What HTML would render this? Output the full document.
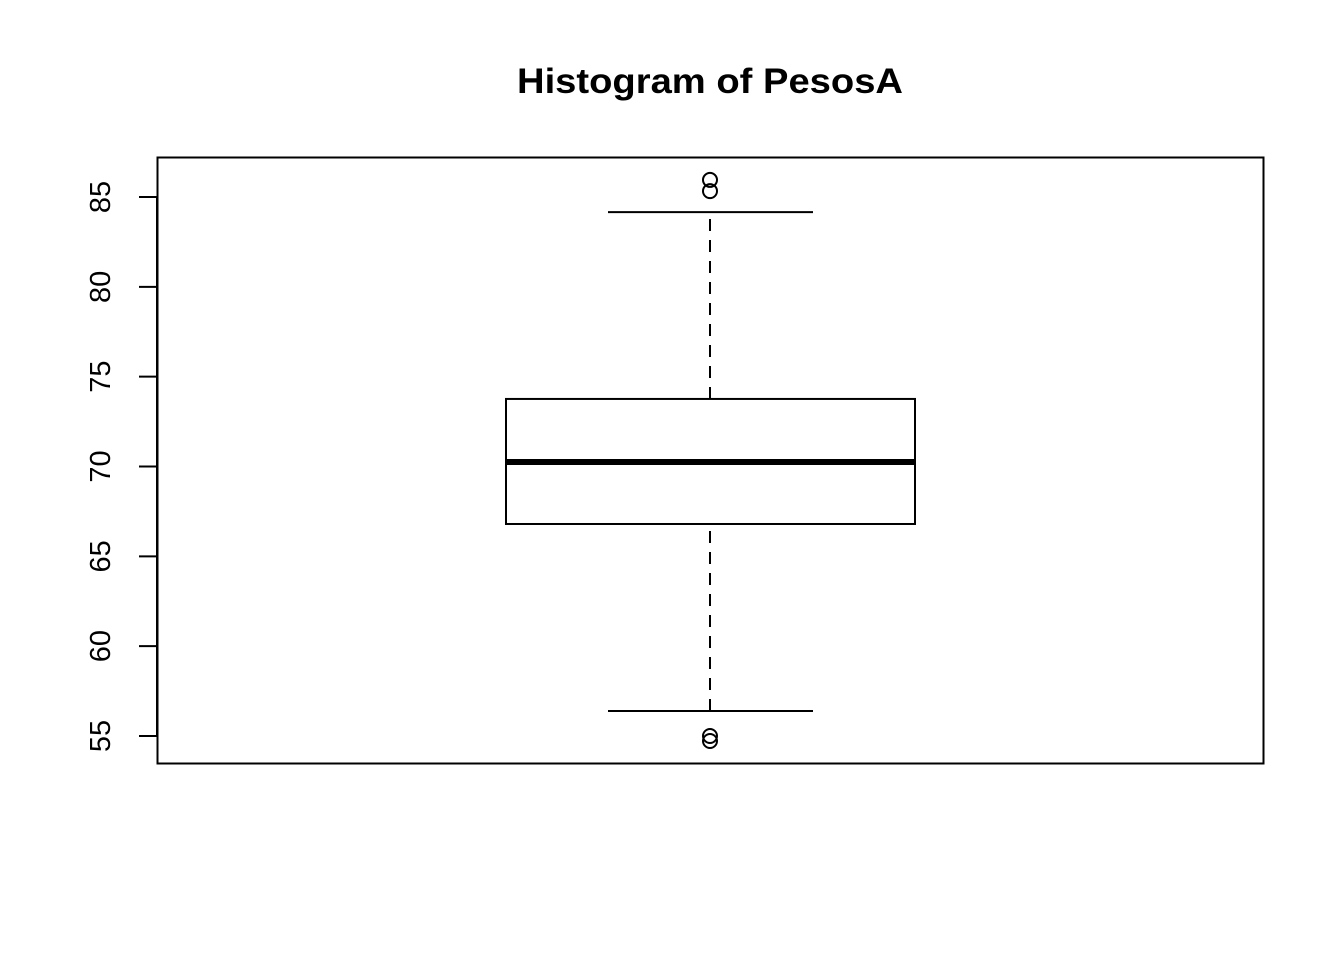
<!DOCTYPE html>
<html><head><meta charset="utf-8"><style>
html,body{margin:0;padding:0;background:#fff;}
svg{display:block;font-family:"Liberation Sans",Arial,sans-serif;}
</style></head><body>
<svg id="chart" width="1344" height="960" viewBox="0 0 1344 960">
<rect width="1344" height="960" fill="#fff"/>
<text x="710" y="93" text-anchor="middle" font-size="35" font-weight="bold" textLength="386" lengthAdjust="spacingAndGlyphs">Histogram of PesosA</text>
<rect x="157.5" y="157.5" width="1106" height="606" fill="none" stroke="#000" stroke-width="2"/>
<g id="yaxis"></g>
<g id="box"></g>
</svg>
<script>
const yTicks=[55,60,65,70,75,80,85];
const stats=[56.39,66.8,70.25,73.76,84.16]; // lower whisker, Q1, median, Q3, upper whisker
const outliers=[85.95,85.33,55.0,54.72];
const NS="http://www.w3.org/2000/svg";
function y(v){return 736-(v-55)*(539/30);}
const cx=710, boxL=506, boxR=915, capL=608, capR=813;
function mk(tag,attrs,parent){const e=document.createElementNS(NS,tag);for(const k in attrs)e.setAttribute(k,attrs[k]);parent.appendChild(e);return e;}
const ya=document.getElementById('yaxis');
mk('line',{x1:157,x2:157,y1:y(yTicks[0]),y2:y(yTicks[yTicks.length-1]),stroke:'#000','stroke-width':2},ya);
yTicks.forEach(t=>{
  const l=mk('line',{x1:139,x2:157,y1:y(t),y2:y(t),stroke:'#000','stroke-width':2},ya);
  
  
  const tx=mk('text',{x:0,y:0,'font-size':29,'text-anchor':'middle',transform:`translate(110,${y(t)}) rotate(-90)`},ya);
  tx.textContent=t;
  
  
});
const b=document.getElementById('box');
const dash={stroke:'#000','stroke-width':2,'stroke-dasharray':'12,9'};
let w1=mk('line',Object.assign({x1:cx,x2:cx,y1:y(stats[0]),y2:y(stats[1])},dash),b);


let w2=mk('line',Object.assign({x1:cx,x2:cx,y1:y(stats[3]),y2:y(stats[4])},dash),b);


let c1=mk('line',{x1:capL,x2:capR,y1:y(stats[0]),y2:y(stats[0]),stroke:'#000','stroke-width':2},b);


let c2=mk('line',{x1:capL,x2:capR,y1:y(stats[4]),y2:y(stats[4]),stroke:'#000','stroke-width':2},b);


let r=mk('rect',{x:boxL,y:y(stats[3]),width:boxR-boxL,height:y(stats[1])-y(stats[3]),fill:'#fff',stroke:'#000','stroke-width':2},b);


let m=mk('line',{x1:boxL,x2:boxR,y1:y(stats[2]),y2:y(stats[2]),stroke:'#000','stroke-width':6},b);


outliers.forEach(v=>{
  const c=mk('circle',{cx:cx,cy:y(v),r:7,fill:'none',stroke:'#000','stroke-width':2},b);
  
  
});
</script>
</body></html>
